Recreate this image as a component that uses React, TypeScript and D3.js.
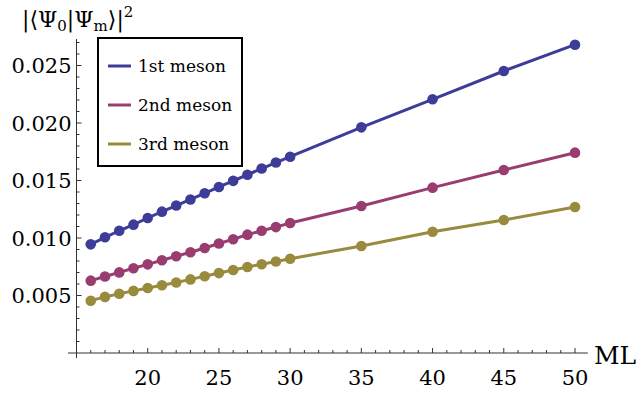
import React from "react";
import * as d3 from "d3";

const W = 636;
const H = 393;

const mlDense = [16, 17, 18, 19, 20, 21, 22, 23, 24, 25, 26, 27, 28, 29, 30];
const mlSparse = [35, 40, 45, 50];
const ml = [...mlDense, ...mlSparse];

const meson1 = [
  0.00945, 0.01006, 0.01063, 0.01116, 0.01174, 0.01229, 0.01282, 0.01335,
  0.01389, 0.01444, 0.01497, 0.0155, 0.01604, 0.01656, 0.01707,
  0.01962, 0.02206, 0.02452, 0.02681,
];
const meson2 = [
  0.00629, 0.00665, 0.00701, 0.00737, 0.00771, 0.00806, 0.00841, 0.00876,
  0.00913, 0.00952, 0.00989, 0.01029, 0.01063, 0.01095, 0.01131,
  0.01278, 0.01438, 0.01591, 0.01742,
];
const meson3 = [
  0.00455, 0.00488, 0.00515, 0.0054, 0.00565, 0.00589, 0.00613, 0.0064,
  0.00668, 0.00695, 0.00722, 0.00748, 0.00772, 0.00796, 0.0082,
  0.0093, 0.01055, 0.01157, 0.0127,
];

const seriesNames = ["1st meson", "2nd meson", "3rd meson"];
const seriesColors = ["#3D3D99", "#993D71", "#998B3D"];
const seriesValues = [meson1, meson2, meson3];

const xMajor = [20, 25, 30, 35, 40, 45, 50];
const yMajor = [0.005, 0.01, 0.015, 0.02, 0.025];
const yTickLabels = ["0.005", "0.010", "0.015", "0.020", "0.025"];

const FONT = "'DejaVu Serif', serif";

export default function App() {
  const x = d3.scaleLinear().domain([15, 50]).range([76.5, 575]);
  const y = d3.scaleLinear().domain([0, 0.025]).range([353, 65.5]);

  const xMin = 14.4;
  const xMax = 50.9;
  const yMin = -0.00045;
  const yMax = 0.0273;

  const xMinor = d3.range(16, 51, 1).filter((v) => v % 5 !== 0);
  const yMinor = d3
    .range(1, 28, 1)
    .filter((v) => v % 5 !== 0)
    .map((v) => v / 1000);

  const line = d3
    .line<number>()
    .x((_, i) => x(ml[i]))
    .y((d) => y(d));

  const axisColor = "#333";

  return (
    <svg
      width={W}
      height={H}
      style={{ position: "absolute", left: 0, top: 0, background: "#fff" }}
    >
      {/* axes */}
      <line x1={x(xMin)} x2={x(xMax)} y1={y(0)} y2={y(0)} stroke={axisColor} strokeWidth={1} />
      <line x1={x(15)} x2={x(15)} y1={y(yMin)} y2={y(yMax)} stroke={axisColor} strokeWidth={1} />

      {xMajor.map((v) => (
        <line key={"xM" + v} x1={x(v)} x2={x(v)} y1={y(0)} y2={y(0) - 5} stroke={axisColor} />
      ))}
      {xMinor.map((v) => (
        <line key={"xm" + v} x1={x(v)} x2={x(v)} y1={y(0)} y2={y(0) - 3} stroke={axisColor} />
      ))}
      {yMajor.map((v) => (
        <line key={"yM" + v} x1={x(15)} x2={x(15) + 5} y1={y(v)} y2={y(v)} stroke={axisColor} />
      ))}
      {yMinor.map((v) => (
        <line key={"ym" + v} x1={x(15)} x2={x(15) + 3} y1={y(v)} y2={y(v)} stroke={axisColor} />
      ))}

      {xMajor.map((v) => (
        <text
          key={"xl" + v}
          x={x(v)}
          y={y(0) + 32}
          fontFamily={FONT}
          fontSize={21}
          textAnchor="middle"
          fill="#000"
        >
          {v}
        </text>
      ))}
      {yMajor.map((v, i) => (
        <text
          key={"yl" + v}
          x={x(15) - 5}
          y={y(v)}
          dy="0.36em"
          fontFamily={FONT}
          fontSize={21}
          textAnchor="end"
          fill="#000"
        >
          {yTickLabels[i]}
        </text>
      ))}

      <text x={594} y={y(0) + 11} fontFamily={FONT} fontSize={25} fill="#000">
        ML
      </text>

      <text x={22} y={27} fontFamily={FONT} fontSize={22} fill="#000">
        |⟨Ψ
        <tspan fontSize={15} dy={4}>0</tspan>
        <tspan dy={-4}>|Ψ</tspan>
        <tspan fontSize={15} dy={4}>m</tspan>
        <tspan dy={-4}>⟩|</tspan>
        <tspan fontSize={15} dy={-10}>2</tspan>
      </text>

      {/* series */}
      {seriesValues.map((vals, s) => (
        <g key={"s" + s}>
          <path d={line(vals) || ""} fill="none" stroke={seriesColors[s]} strokeWidth={3} />
          {vals.map((v, i) => (
            <circle key={i} cx={x(ml[i])} cy={y(v)} r={5.3} fill={seriesColors[s]} />
          ))}
        </g>
      ))}

      {/* legend */}
      <g>
        <rect x={98} y={38} width={144} height={128} fill="#fff" stroke="#000" strokeWidth={2} />
        {seriesNames.map((n, i) => (
          <g key={n}>
            <line
              x1={108}
              x2={131}
              y1={66 + i * 39}
              y2={66 + i * 39}
              stroke={seriesColors[i]}
              strokeWidth={3}
            />
            <text
              x={138}
              y={66 + i * 39}
              dy="0.35em"
              fontFamily={FONT}
              fontSize={17}
              fill="#000"
            >
              {n}
            </text>
          </g>
        ))}
      </g>
    </svg>
  );
}
